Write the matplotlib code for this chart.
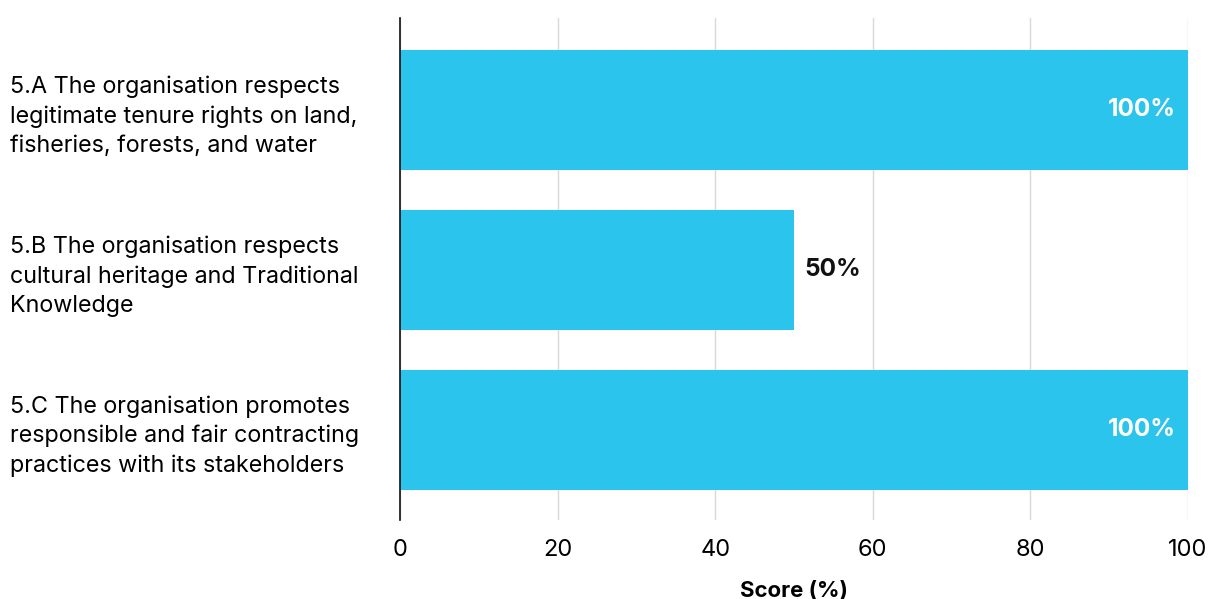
import matplotlib.pyplot as plt

categories = [
    "5.A The organisation respects\nlegitimate tenure rights on land,\nfisheries, forests, and water",
    "5.B The organisation respects\ncultural heritage and Traditional\nKnowledge",
    "5.C The organisation promotes\nresponsible and fair contracting\npractices with its stakeholders",
]
scores = [100, 50, 100]

plt.rcParams['font.family'] = ['Inter', 'DejaVu Sans']

fig = plt.figure(figsize=(12.10, 5.99), dpi=100)
ax = fig.add_axes([0.3306, 0.1319, 0.6512, 0.8381])

y = list(range(len(categories)))
ax.barh(y, scores, height=0.75, color='#2BC4EC', zorder=2)
ax.set_ylim(2.5625, -0.575)
ax.set_xlim(0, 100)

for i, v in enumerate(scores):
    if v >= 90:
        ax.text(v - 1.5, i, f"{v}%", ha='right', va='center', color='white',
                fontsize=17.5, fontweight='bold', zorder=3)
    else:
        ax.text(v + 1.3, i, f"{v}%", ha='left', va='center', color='#111111',
                fontsize=17.5, fontweight='bold', zorder=3)

ax.set_xticks([0, 20, 40, 60, 80, 100])
ax.set_yticks(y)
ax.set_yticklabels(categories, fontsize=16.8, ha='left', linespacing=1.42)
ax.tick_params(axis='y', length=0, pad=280.5)
ax.tick_params(axis='x', length=0, pad=14, labelsize=17)
ax.grid(axis='x', color='#d9d9d9', linewidth=1, zorder=0)

for s in ['top', 'right', 'bottom']:
    ax.spines[s].set_visible(False)
ax.spines['left'].set_color('#111111')
ax.spines['left'].set_linewidth(1.2)

ax.set_xlabel('Score (%)', fontsize=16, fontweight='bold', labelpad=14)

fig.savefig('out.png', dpi=100)
